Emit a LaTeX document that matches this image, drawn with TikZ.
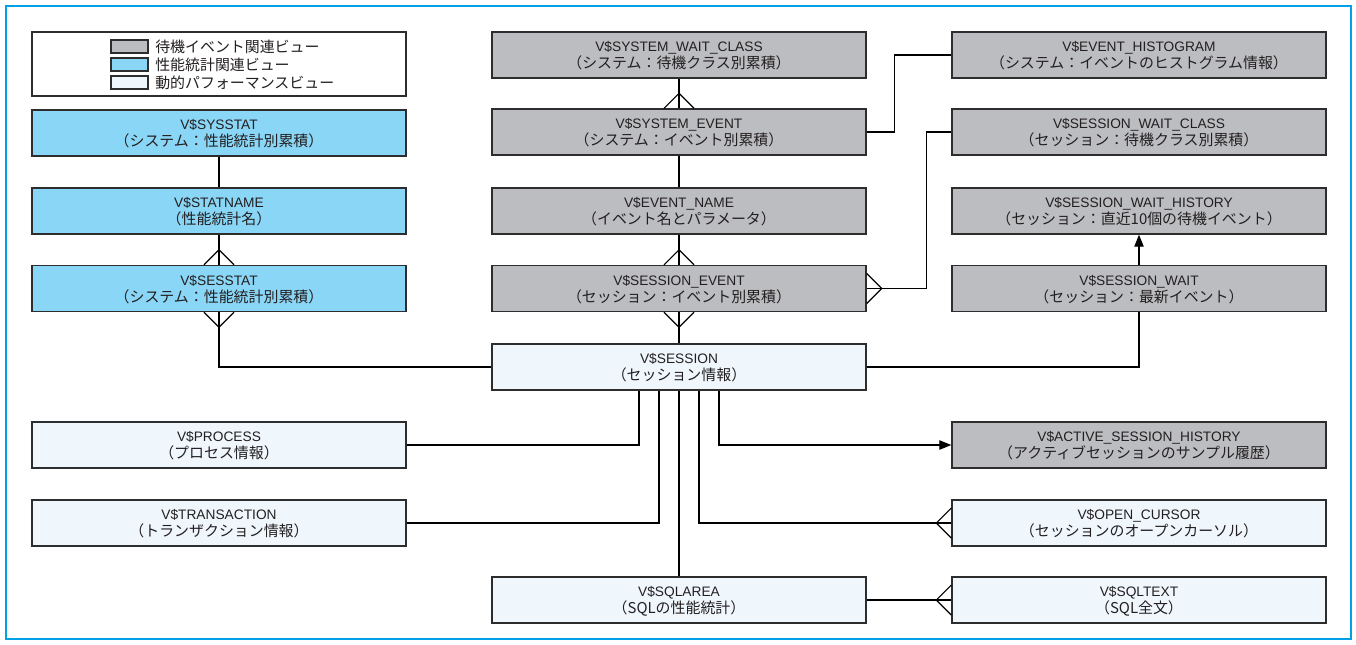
\documentclass[tikz,border=0pt]{standalone}
\usepackage{fontspec}
\setmainfont{Liberation Sans}
\newfontfamily\jp{Noto Sans CJK JP}
\usetikzlibrary{calc,arrows.meta}
\definecolor{frameblue}{RGB}{0,160,233}
\definecolor{waitgray}{RGB}{188,189,192}
\definecolor{statblue}{RGB}{138,214,246}
\definecolor{dynlight}{RGB}{239,247,253}
\definecolor{bdr}{RGB}{45,45,45}
\definecolor{txt}{RGB}{35,31,32}
\newcommand{\vbx}[2]{\raisebox{-1.6pt}[\height][\depth]{\begin{tabular}{@{}c@{}}#1\\{\jp\fontsize{11.2pt}{11.4pt}\selectfont #2}\end{tabular}}}
\newcommand{\footN}[1]{\draw[conn] ($(#1.north)+(-15,0)$) -- ($(#1.north)+(0,-15)$) -- ($(#1.north)+(15,0)$);}
\newcommand{\footS}[1]{\draw[conn] ($(#1.south)+(-15,0)$) -- ($(#1.south)+(0,15)$) -- ($(#1.south)+(15,0)$);}
\newcommand{\footE}[1]{\draw[conn] ($(#1.east)+(0,-15)$) -- ($(#1.east)+(15,0)$) -- ($(#1.east)+(0,15)$);}
\newcommand{\footW}[1]{\draw[conn] ($(#1.west)+(0,-15)$) -- ($(#1.west)+(-15,0)$) -- ($(#1.west)+(0,15)$);}
\tikzset{
  box/.style={draw=bdr, line width=1pt, minimum width=280.5pt, minimum height=34.5pt,
    inner sep=0pt, text=txt, font=\fontsize{10.3pt}{11.4pt}\selectfont},
  gbox/.style={box, fill=waitgray},
  bbox/.style={box, fill=statblue},
  lbox/.style={box, fill=dynlight},
  swatch/.style={draw=bdr, line width=0.9pt, minimum width=27.75pt, minimum height=9.75pt, inner sep=0pt},
  legendtext/.style={anchor=west, inner sep=0pt, text=txt, font=\jp\fontsize{11.2pt}{12pt}\selectfont},
  conn/.style={draw=black, line width=0.9pt},
  arr/.style={conn, -{Triangle[length=9pt,width=7pt]}}
}
\begin{document}
\begin{tikzpicture}[x=0.75pt,y=-0.75pt]
\useasboundingbox (0,0) rectangle (1356,644);
\fill[white] (0,0) rectangle (1356,644);
\draw[frameblue, line width=1.6pt] (6,6) rectangle (1351,639);

% legend
\node[draw=bdr, line width=1pt, minimum width=280.5pt, minimum height=48pt, inner sep=0pt] (legend) at (219,64) {};
\node[swatch, fill=waitgray] (sw1) at (129.5,46.5) {};
\node[swatch, fill=statblue] (sw2) at (129.5,64.5) {};
\node[swatch, fill=dynlight] (sw3) at (129.5,82.5) {};
\node[legendtext] (lg1) at (155,46.5) {待機イベント関連ビュー};
\node[legendtext] (lg2) at (155,64.5) {性能統計関連ビュー};
\node[legendtext] (lg3) at (155,82.5) {動的パフォーマンスビュー};

% left column
\node[bbox] (sysstat) at (219,133) {\vbx{V\$SYSSTAT}{（システム：性能統計別累積）}};
\node[bbox] (statname) at (219,211) {\vbx{V\$STATNAME}{（性能統計名）}};
\node[bbox] (sesstat) at (219,288.5) {\vbx{V\$SESSTAT}{（システム：性能統計別累積）}};
\node[lbox] (process) at (219,445) {\vbx{V\$PROCESS}{（プロセス情報）}};
\node[lbox] (transaction) at (219,523) {\vbx{V\$TRANSACTION}{（トランザクション情報）}};

% middle column
\node[gbox] (syswait) at (679,55) {\vbx{V\$SYSTEM\_WAIT\_CLASS}{（システム：待機クラス別累積）}};
\node[gbox] (sysevent) at (679,132) {\vbx{V\$SYSTEM\_EVENT}{（システム：イベント別累積）}};
\node[gbox] (eventname) at (679,211) {\vbx{V\$EVENT\_NAME}{（イベント名とパラメータ）}};
\node[gbox] (sessevent) at (679,288.5) {\vbx{V\$SESSION\_EVENT}{（セッション：イベント別累積）}};
\node[lbox] (session) at (679,367) {\vbx{V\$SESSION}{（セッション情報）}};
\node[lbox] (sqlarea) at (679,600) {\vbx{V\$SQLAREA}{（SQLの性能統計）}};

% right column
\node[gbox] (evhist) at (1139,55) {\vbx{V\$EVENT\_HISTOGRAM}{（システム：イベントのヒストグラム情報）}};
\node[gbox] (swclass) at (1139,132) {\vbx{V\$SESSION\_WAIT\_CLASS}{（セッション：待機クラス別累積）}};
\node[gbox] (swhist) at (1139,211) {\vbx{V\$SESSION\_WAIT\_HISTORY}{（セッション：直近10個の待機イベント）}};
\node[gbox] (sesswait) at (1139,288.5) {\vbx{V\$SESSION\_WAIT}{（セッション：最新イベント）}};
\node[gbox] (ash) at (1139,445) {\vbx{V\$ACTIVE\_SESSION\_HISTORY}{（アクティブセッションのサンプル履歴）}};
\node[lbox] (opencursor) at (1139,523) {\vbx{V\$OPEN\_CURSOR}{（セッションのオープンカーソル）}};
\node[lbox] (sqltext) at (1139,600) {\vbx{V\$SQLTEXT}{（SQL全文）}};

% connectors left
\draw[conn] (sysstat.south) -- (statname.north);
\draw[conn] (statname.south) -- (sesstat.north);
\footN{sesstat}
\footS{sesstat}
\draw[conn] (sesstat.south) |- (session.west);

% connectors middle
\draw[conn] (syswait.south) -- (sysevent.north);
\footN{sysevent}
\draw[conn] (sysevent.south) -- (eventname.north);
\draw[conn] (eventname.south) -- (sessevent.north);
\footN{sessevent}
\draw[conn] (sessevent.south) -- (session.north);
\footS{sessevent}

% connectors to right column
\draw[conn] (sysevent.east) -- ++(28,0) |- (evhist.west);
\draw[conn] (sessevent.east) -- ++(60,0) |- (swclass.west);
\footE{sessevent}
\draw[conn] (session.east) -| (sesswait.south);
\draw[arr] (sesswait.north) -- (swhist.south);

% connectors below session
\draw[conn] ($(session.south)+(-40,0)$) |- (process.east);
\draw[conn] ($(session.south)+(-20,0)$) |- (transaction.east);
\draw[conn] (session.south) -- (sqlarea.north);
\draw[conn] ($(session.south)+(20,0)$) |- (opencursor.west);
\footW{opencursor}
\draw[arr] ($(session.south)+(40,0)$) |- (ash.west);
\draw[conn] (sqlarea.east) -- (sqltext.west);
\footW{sqltext}
\end{tikzpicture}
\end{document}
